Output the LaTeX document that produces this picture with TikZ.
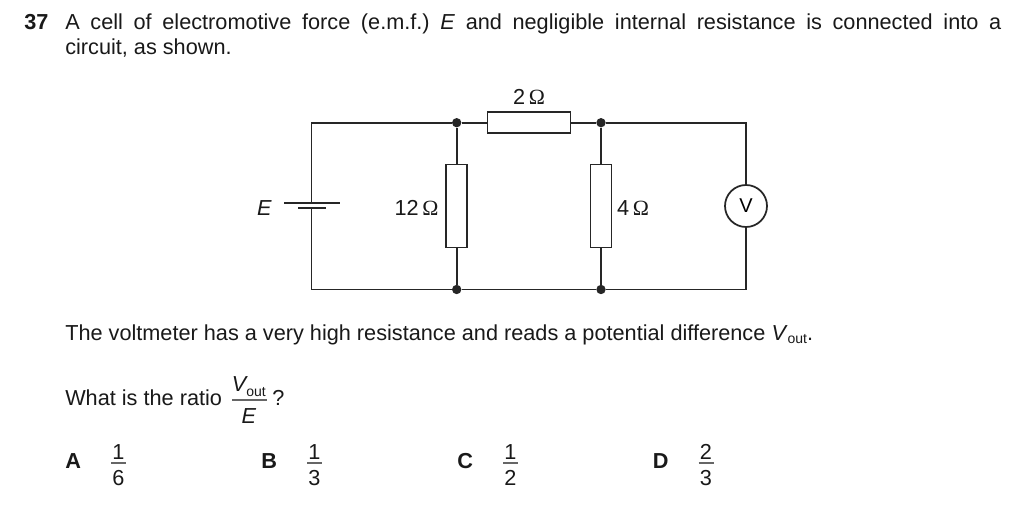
\documentclass[tikz,border=0pt]{standalone}
\usepackage{fontspec}
\setmainfont{Liberation Sans}
\newfontfamily\omfont{Liberation Serif}
\usetikzlibrary{calc}
\newcommand{\myohm}{{\omfont Ω}}
\newcommand{\myout}{\raisebox{-2.6pt}{\fontsize{10.5}{12}\selectfont out}}
\tikzset{
  x=0.75pt,y=-0.75pt,
  wire/.style={line width=1.3pt,draw=black!85},
  resbox/.style={draw=black!85,line width=1.3pt,fill=white,inner sep=0pt,minimum width=15.75pt,minimum height=62.25pt},
  resboxh/.style={draw=black!85,line width=1.3pt,fill=white,inner sep=0pt,minimum width=62.25pt,minimum height=15.75pt},
  junction/.style={circle,fill=black!85,inner sep=0pt,minimum size=7pt},
  txt/.style={inner sep=0pt,anchor=base west,font=\fontsize{16.27}{19}\selectfont\frenchspacing,text=black!90},
  ctxt/.style={inner sep=0pt,anchor=base,font=\fontsize{16.27}{19}\selectfont,text=black!90},
  fracbar/.style={line width=0.9pt,draw=black!60},
}
\begin{document}
\begin{tikzpicture}
\useasboundingbox[fill=white] (0,0) rectangle (1024,528);
% circuit
\coordinate (tl) at (311.5,122.7);
\coordinate (bl) at (311.5,289.5);
\coordinate (tr) at (746,122.7);
\coordinate (br) at (746,289.5);
\node[junction] (j1) at (456.7,122.7) {};
\node[junction] (j2) at (601,122.7) {};
\node[junction] (j3) at (456.7,289.5) {};
\node[junction] (j4) at (601,289.5) {};
\node[resboxh] (r2) at (529,122.7) {};
\node[resbox] (r12) at (456.7,206) {};
\node[resbox] (r4) at (601,206) {};
\node[circle,draw=black!85,line width=1.3pt,fill=white,inner sep=0pt,minimum size=31.5pt,font=\fontsize{15}{17}\selectfont] (vm) at (746,206) {V};
\coordinate (pa) at (311.5,203);
\coordinate (pb) at (311.5,208.3);
\coordinate (pa1) at (284,203);
\coordinate (pa2) at (340,203);
\coordinate (pb1) at (298,208.3);
\coordinate (pb2) at (326,208.3);
\draw[wire] (pa) -- (tl) -- (j1) -- (r2) -- (j2) -- (tr) -- (vm);
\draw[wire] (pb) -- (bl) -- (j3) -- (j4) -- (br) -- (vm);
\draw[wire] (j1) -- (r12) -- (j3);
\draw[wire] (j2) -- (r4) -- (j4);
\draw[wire] (pa1) -- (pa2);
\draw[wire] (pb1) -- (pb2);
\node[ctxt] (e) at (264.5,215.5) {\textit{E}};
\node[ctxt] (l2) at (529,104.5) {2\,\myohm};
\node[ctxt] (l12) at (416.5,215.5) {12\,\myohm};
\node[ctxt] (l4) at (633,215.5) {4\,\myohm};
% question text
\node[txt] (qn) at (24,30) {\bfseries 37};
\node[txt] (q1) at (65,30) {\hbox to 702pt{A cell of electromotive force (e.m.f.) \textit{E} and negligible internal resistance is connected into a}};
\node[txt] (q2) at (65,55) {circuit, as shown.};
\node[txt] (q3) at (65,340) {The voltmeter has a very high resistance and reads a potential difference \textit{V}\myout.};
\node[txt] (q4) at (65,405) {What is the ratio};
% ratio fraction
\coordinate (ra) at (232,400);
\coordinate (rb) at (267,400);
\draw[fracbar] (ra) -- (rb);
\node[ctxt] (rv) at (240,391) {\textit{V}};
\node[ctxt,font=\fontsize{10.5}{12}\selectfont] (rout) at (256,396) {out};
\node[ctxt] (re) at (249,423) {\textit{E}};
\node[txt] (rq) at (272,405) {?};
% options
\node[txt] (oa) at (65,468) {\bfseries A};
\node[txt] (ob) at (261,468) {\bfseries B};
\node[txt] (oc) at (457,468) {\bfseries C};
\node[txt] (od) at (652.5,468) {\bfseries D};
\coordinate (a1) at (111,463); \coordinate (a2) at (126,463);
\coordinate (b1) at (307,463); \coordinate (b2) at (322,463);
\coordinate (c1) at (503,463); \coordinate (c2) at (518,463);
\coordinate (d1) at (698.5,463); \coordinate (d2) at (713.5,463);
\draw[fracbar] (a1) -- (a2);
\draw[fracbar] (b1) -- (b2);
\draw[fracbar] (c1) -- (c2);
\draw[fracbar] (d1) -- (d2);
\node[ctxt] (an) at (118.5,459) {1};
\node[ctxt] (ad) at (118.5,485.5) {6};
\node[ctxt] (bn) at (314.5,459) {1};
\node[ctxt] (bd) at (314.5,485.5) {3};
\node[ctxt] (cn) at (510.5,459) {1};
\node[ctxt] (cd) at (510.5,485.5) {2};
\node[ctxt] (dn) at (706,459) {2};
\node[ctxt] (dd) at (706,485.5) {3};
\end{tikzpicture}
\end{document}
